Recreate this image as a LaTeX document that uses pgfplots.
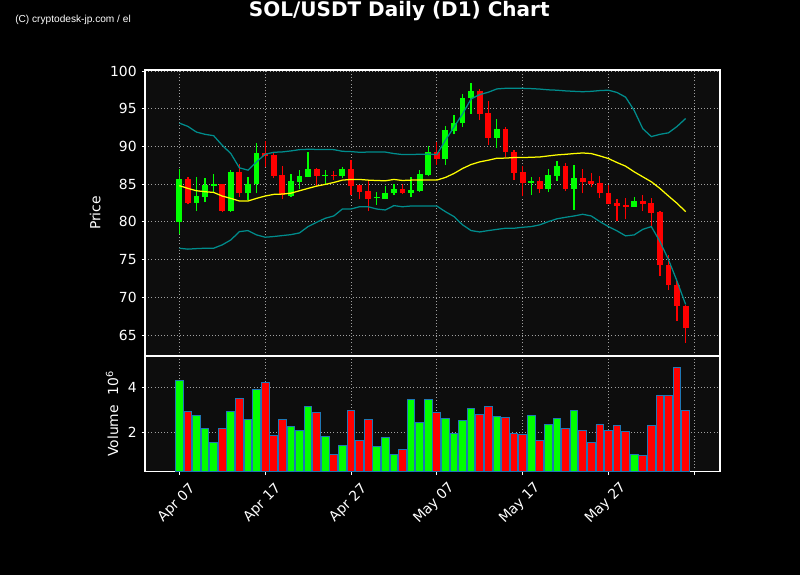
\documentclass[border=0pt]{standalone}
\usepackage{fontspec}
\setmainfont{DejaVu Sans}
\usepackage{pgfplots}
\usepackage{pgfplotstable}
\pgfplotsset{compat=1.18}

\definecolor{cg}{RGB}{0,255,0}
\definecolor{cr}{RGB}{255,0,0}
\definecolor{band}{RGB}{0,140,140}
\definecolor{sma}{RGB}{255,255,0}
\definecolor{edge}{RGB}{31,119,180}
\definecolor{gridc}{RGB}{160,160,160}

% green candles: day open high low close volume(1e6)
\pgfplotstableread{
d o h l c v
0 80.03 87.07 78.40 85.66 4.31
2 82.54 86.00 81.44 83.42 2.76
3 83.33 85.75 82.58 84.87 2.18
4 84.74 86.28 84.00 85.00 1.56
6 81.48 86.85 81.35 86.58 2.93
8 83.77 85.88 82.89 85.00 2.58
9 84.96 90.50 83.77 89.09 3.91
13 83.46 86.28 83.33 85.40 2.27
14 85.31 86.93 84.30 86.06 2.09
15 85.97 89.31 85.88 86.98 3.16
17 86.15 86.93 85.00 86.22 1.82
19 86.06 87.29 85.79 86.98 1.42
23 83.20 83.99 82.23 83.28 1.38
24 83.07 84.78 83.00 83.77 1.78
25 83.77 84.96 83.55 84.35 1.02
27 83.86 85.88 83.29 84.21 3.47
28 84.08 86.93 83.99 86.33 2.44
29 86.24 90.10 86.10 89.22 3.47
31 88.30 92.77 87.60 92.11 2.62
32 92.02 94.17 91.60 93.16 1.96
33 93.07 97.00 92.56 96.46 2.53
34 96.37 98.40 94.30 97.39 3.07
37 91.12 93.66 89.84 92.25 2.71
41 85.18 85.88 83.55 85.40 2.76
43 84.30 87.07 83.90 86.20 2.36
44 86.10 88.02 85.40 87.38 2.62
46 84.34 87.50 81.57 85.84 2.98
53 82.02 83.24 82.00 82.77 1.02
}\greentab

% red candles
\pgfplotstableread{
d o h l c v
1 85.66 85.88 82.32 82.54 2.93
5 85.00 85.05 81.26 81.48 2.18
7 86.58 87.73 83.33 83.77 3.51
10 89.09 90.72 87.29 88.74 4.22
11 88.83 89.13 85.75 86.10 1.87
12 86.20 87.38 82.98 83.55 2.58
16 86.98 87.20 84.78 86.10 2.89
18 86.20 86.76 85.53 86.10 1.02
20 86.98 88.15 83.55 84.78 2.98
21 84.87 84.90 82.98 83.99 1.64
22 84.08 85.53 81.44 83.07 2.58
26 84.35 84.96 83.64 83.86 1.24
30 89.22 90.58 87.60 88.30 2.89
35 97.39 97.60 93.53 94.30 2.80
36 94.40 96.00 90.23 91.16 3.16
38 92.25 92.56 88.60 89.26 2.67
39 89.26 89.48 85.53 86.50 1.96
40 86.60 87.38 83.46 85.18 1.91
42 85.40 85.97 83.86 84.30 1.64
45 87.38 87.86 84.08 84.35 2.18
47 85.84 87.06 83.77 85.31 2.09
48 85.40 86.53 84.56 85.00 1.56
49 85.09 86.09 83.11 83.77 2.36
50 83.86 84.87 82.30 82.37 2.09
51 82.50 82.99 80.12 82.15 2.31
52 82.24 83.20 80.34 81.97 2.04
54 82.77 83.55 81.45 82.42 0.98
55 82.50 83.11 79.24 81.22 2.31
56 81.35 81.40 72.86 74.23 3.64
57 74.30 75.64 70.94 71.58 3.64
58 71.67 72.11 66.84 68.81 4.89
59 68.90 68.95 64.00 65.87 2.98
}\redtab

% bollinger bands: day upper sma lower
\pgfplotstableread{
d u m w
0 93.09 84.80 76.50
1 92.65 84.43 76.38
2 91.90 84.12 76.45
3 91.60 83.99 76.50
4 91.42 83.90 76.50
5 90.15 83.42 76.95
6 89.05 83.11 77.60
7 87.16 82.76 78.70
8 86.85 82.76 78.84
9 87.95 83.11 78.27
10 88.96 83.42 77.96
11 89.22 83.64 78.05
12 89.27 83.68 78.18
13 89.40 83.80 78.30
14 89.57 84.12 78.53
15 89.62 84.43 79.37
16 89.60 84.74 79.94
17 89.60 84.96 80.47
18 89.57 85.22 80.78
19 89.35 85.53 81.70
20 89.31 85.62 81.70
21 89.22 85.62 82.00
22 89.25 85.53 82.00
23 89.27 85.48 81.70
24 89.25 85.44 81.57
25 89.05 85.62 82.15
26 88.92 85.48 82.00
27 88.92 85.53 82.10
28 88.96 85.53 82.10
29 88.98 85.53 82.10
30 88.92 85.53 82.10
31 90.80 85.88 81.35
32 92.56 86.41 80.70
33 94.30 87.07 79.60
34 96.30 87.60 78.84
35 96.87 87.95 78.66
36 97.18 88.17 78.84
37 97.62 88.43 79.00
38 97.70 88.45 79.15
39 97.70 88.52 79.15
40 97.70 88.52 79.28
41 97.66 88.56 79.37
42 97.60 88.60 79.60
43 97.50 88.74 80.03
44 97.45 88.87 80.40
45 97.36 88.95 80.60
46 97.30 89.05 80.78
47 97.25 89.13 81.00
48 97.30 89.05 80.78
49 97.40 88.74 80.03
50 97.45 88.39 79.37
51 97.15 87.86 78.80
52 96.53 87.38 78.14
53 94.77 86.63 78.27
54 92.35 85.97 79.00
55 91.30 85.31 79.37
56 91.60 84.43 77.40
57 91.80 83.42 74.98
58 92.65 82.45 72.12
59 93.70 81.35 69.04
}\bandtab

\pgfplotsset{
  panel/.style={
    scale only axis, width=414pt,
    xmin=-4, xmax=63,
    xtick={0,10,...,60},
    axis background/.style={fill=black!95},
    axis line style={white, line width=0.8pt},
    tick style={white, line width=0.6pt},
    major tick length=2.5pt, tick align=outside,
    xtick pos=bottom, ytick pos=left,
    ticklabel style={white, font=\fontsize{10}{12}\selectfont},
    label style={white, font=\fontsize{10}{12}\selectfont},
    grid=major,
    major grid style={gridc, line width=0.6pt, dash pattern=on 0.7pt off 1.6pt},
    /pgf/number format/assume math mode=true,
  },
}

\begin{document}
\begin{tikzpicture}
\fill[black] (0,0) rectangle (576pt,414pt);
\useasboundingbox (0,0) rectangle (576pt,414pt);

\node[white, font=\bfseries\fontsize{14.4}{16}\selectfont] at (287.5pt,406pt) {SOL/USDT Daily (D1) Chart};
\node[white, anchor=west, inner sep=0pt, font=\fontspec{Liberation Sans}\fontsize{7.3}{8}\selectfont] at (10.8pt,399.6pt) {(C) cryptodesk-jp.com / el};

\begin{axis}[panel,
  at={(104.4pt,363.6pt)}, anchor=north west, height=206pt,
  ymin=62.2, ymax=100.13,
  ytick={65,70,...,100},
  xticklabels={},
  x tick style={draw=none},
  ylabel={Price},
]
% wicks
\addplot[draw=none, mark=none, forget plot,
  error bars/.cd, y dir=plus, y explicit, error mark=none,
  error bar style={draw=cg, line width=0.9pt}]
  table[x=d, y=l, y error expr=\thisrow{h}-\thisrow{l}] {\greentab};
\addplot[draw=none, mark=none, forget plot,
  error bars/.cd, y dir=plus, y explicit, error mark=none,
  error bar style={draw=cr, line width=0.9pt}]
  table[x=d, y=l, y error expr=\thisrow{h}-\thisrow{l}] {\redtab};
% bodies
\addplot[draw=none, mark=none, forget plot,
  error bars/.cd, y dir=plus, y explicit, error mark=none,
  error bar style={draw=cg, line width=4.2pt}]
  table[x=d, y=o, y error expr=\thisrow{c}-\thisrow{o}] {\greentab};
\addplot[draw=none, mark=none, forget plot,
  error bars/.cd, y dir=plus, y explicit, error mark=none,
  error bar style={draw=cr, line width=4.2pt}]
  table[x=d, y=c, y error expr=\thisrow{o}-\thisrow{c}] {\redtab};
% bands
\addplot[band, line width=0.9pt, mark=none] table[x=d, y=u] {\bandtab};
\addplot[band, line width=0.9pt, mark=none] table[x=d, y=w] {\bandtab};
\addplot[sma, line width=0.9pt, mark=none] table[x=d, y=m] {\bandtab};
\end{axis}

\begin{axis}[panel,
  at={(104.4pt,157.7pt)}, anchor=north west, height=83.3pt,
  ymin=0.27, ymax=5.4,
  ytick={2,4},
  xticklabels={Apr 07,Apr 17,Apr 27,May 07,May 17,May 27,{}},
  xticklabel style={anchor=center, xshift=-1.9pt, yshift=-20.2pt, rotate=45},
  ylabel={Volume\hspace{0.7em}10\textsuperscript{6}},
]
\addplot[ybar, bar width=0.9, bar shift=0pt, fill=cg, draw=edge, line width=0.7pt]
  table[x=d, y=v] {\greentab};
\addplot[ybar, bar width=0.9, bar shift=0pt, fill=cr, draw=edge, line width=0.7pt]
  table[x=d, y=v] {\redtab};
\end{axis}
\end{tikzpicture}
\end{document}
